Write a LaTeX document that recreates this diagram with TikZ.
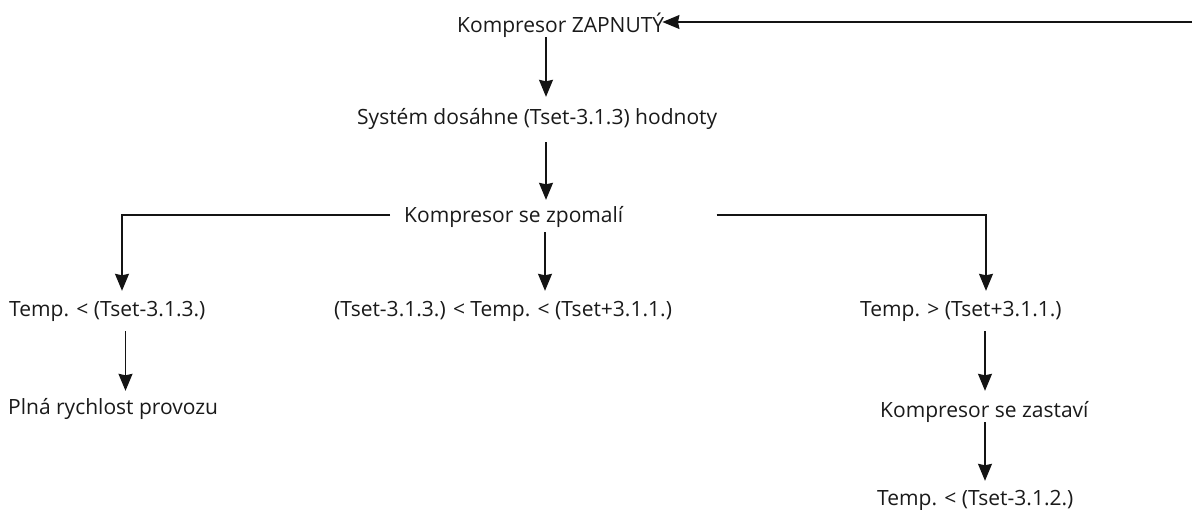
\documentclass[tikz,border=0pt]{standalone}
\usepackage{fontspec}
\setmainfont{Open Sans}
\usetikzlibrary{arrows.meta}
\definecolor{txt}{HTML}{1A1A1A}
\definecolor{ln}{HTML}{141414}
\begin{document}
\begin{tikzpicture}[x=1pt,y=-1pt,
  lbl/.style={anchor=base west,inner sep=0pt,text height=15pt,text depth=5pt,
    font=\fontsize{21}{25}\selectfont,text=txt},
  arr/.style={draw=ln,line width=1.3pt,-{Stealth[length=17pt,width=14pt,inset=1.5pt]}}]
\useasboundingbox[fill=white] (0,0) rectangle (1194,509);
% text nodes
\node[lbl] (k1) at (457,32) {Kompresor ZAPNUTÝ};
\node[lbl] (s1) at (357,124) {Systém dosáhne (Tset-3.1.3) hodnoty};
\node[lbl] (z1) at (404,222) {Kompresor se zpomalí};
\node[lbl] (t1) at (9,316) {Temp. < (Tset-3.1.3.)};
\node[lbl] (t2) at (334,316) {(Tset-3.1.3.) < Temp. < (Tset+3.1.1.)};
\node[lbl] (t3) at (860,316) {Temp. > (Tset+3.1.1.)};
\node[lbl] (p1) at (8,414) {Plná rychlost provozu};
\node[lbl] (k2) at (880,417) {Kompresor se zastaví};
\node[lbl] (t4) at (877,505) {Temp. < (Tset-3.1.2.)};
% helper coordinates
\coordinate (rin) at (1192,22);
\coordinate (cA) at (546,0);
\coordinate (cC) at (545,0);
\coordinate (cL) at (122,0);
\coordinate (cR) at (986,0);
\coordinate (cD) at (125.5,0);
\coordinate (cE) at (985,0);
\coordinate (hz) at (0,215);
% connectors
\draw[arr,shorten >=-2pt] (rin) -- (rin -| k1.east);
\draw[arr,shorten >=12pt] (k1.south -| cA) -- (s1.north -| cA);
\draw[arr,shorten <=13pt,shorten >=7pt] (s1.south -| cA) -- (z1.north -| cA);
\draw[arr,shorten <=5pt,shorten >=10pt] (z1.south -| cC) -- (t2.north -| cC);
\draw[arr,shorten <=14pt,shorten >=10pt] (z1.west |- hz) -| (t1.north -| cL);
\draw[arr,shorten <=93pt,shorten >=10pt] (z1.east |- hz) -| (t3.north -| cR);
\draw[arr,shorten <=10pt,shorten >=8pt] (t1.south -| cD) -- (p1.north -| cD);
\draw[arr,shorten <=10pt,shorten >=11pt] (t3.south -| cE) -- (k2.north -| cE);
\draw[arr,shorten >=9pt] (k2.south -| cE) -- (t4.north -| cE);
\end{tikzpicture}
\end{document}
